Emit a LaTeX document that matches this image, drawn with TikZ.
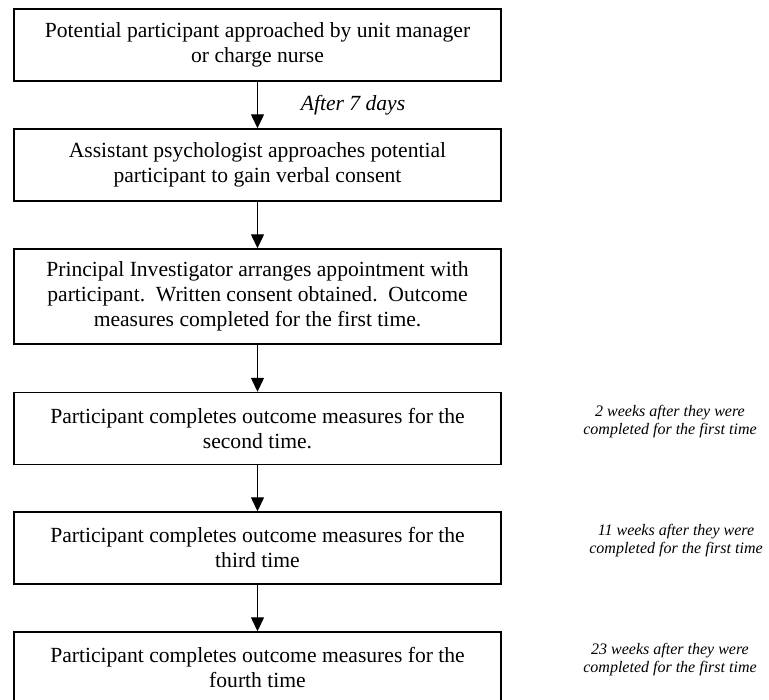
\documentclass[tikz,border=0pt]{standalone}
\usepackage{fontspec}
\setmainfont{Liberation Serif}
\usepackage{tikz}
\usetikzlibrary{arrows.meta}
\tikzset{
   stage/.style={draw=black, line width=1.4pt, minimum width=487pt,
      minimum height=72pt, inner sep=0pt, align=center,
      font=\fontsize{21.6}{25}\selectfont},
   flow/.style={draw=black, line width=1.3pt,
      -{Triangle[width=13pt,length=14pt]}},
   note/.style={align=center, font=\fontsize{16}{18}\selectfont\itshape},
    }
\begin{document}
\begin{tikzpicture}[x=1pt,y=-1pt]
        \clip (0,0) rectangle (769,700);
        \useasboundingbox (0,0) rectangle (769,700);
        % boxes
        \node[stage] (recruit) at (257.5,45) {Potential participant approached by unit manager\\or charge nurse};
        \node[stage] (verbal) at (257.5,165) {Assistant psychologist approaches potential\\participant to gain verbal consent};
        \node[stage, minimum height=95pt] (first) at (257.5,296.5) {Principal Investigator arranges appointment with\\participant.\ \ Written consent obtained.\ \ Outcome\\measures completed for the first time.};
        \node[stage] (second) at (257.5,428.5) {Participant completes outcome measures for the\\second time.};
        \node[stage] (third) at (257.5,548) {Participant completes outcome measures for the\\third time};
        \node[stage] (fourth) at (257.5,668) {Participant completes outcome measures for the\\fourth time};
        % arrows
        \draw[flow] (recruit) -- (verbal);
        \draw[flow] (verbal) -- (first);
        \draw[flow] (first) -- (second);
        \draw[flow] (second) -- (third);
        \draw[flow] (third) -- (fourth);
        % timings
        \node[font=\fontsize{21.6}{25}\selectfont\itshape] (wait) at (353,105) {After 7 days};
        \node[note] (twoweeks) at (670,422) {2 weeks after they were\\completed for the first time};
        \node[note] (elevenweeks) at (676,541) {11 weeks after they were\\completed for the first time};
        \node[note] (twentythree) at (670,660) {23 weeks after they were\\completed for the first time};
\end{tikzpicture}
\end{document}
